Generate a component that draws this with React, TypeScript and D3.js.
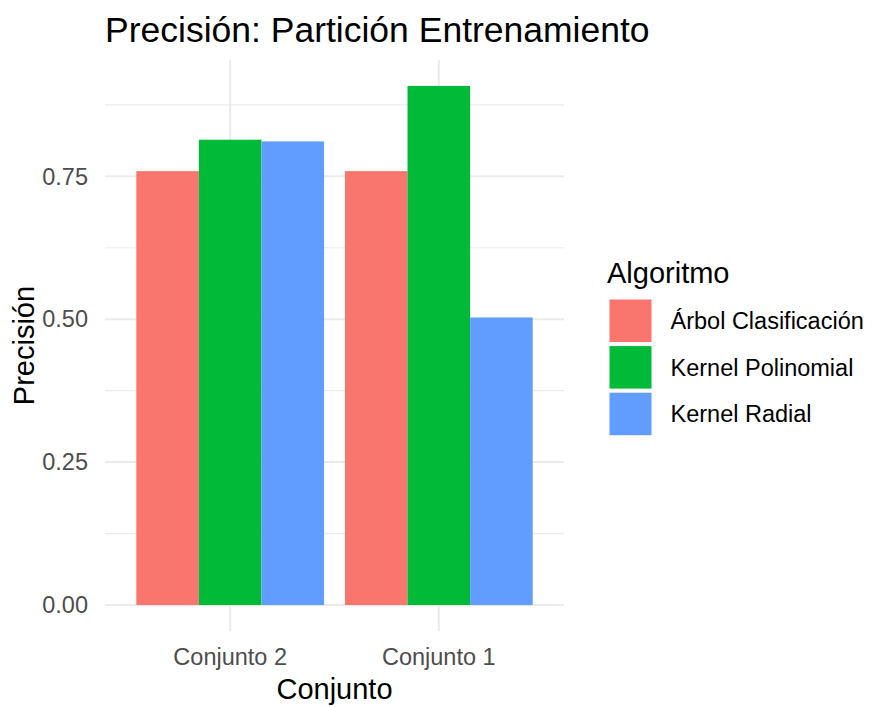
import * as d3 from "d3";
import React from "react";

const conjuntos = ["Conjunto 2", "Conjunto 1"];
const algoritmos = ["Árbol Clasificación", "Kernel Polinomial", "Kernel Radial"];
const arbol = [0.759, 0.759];
const polinomial = [0.814, 0.908];
const radial = [0.811, 0.503];
const colores = ["#F8766D", "#00BA38", "#619CFF"];
const majorTicks = [0, 0.25, 0.5, 0.75];
const minorTicks = [0.125, 0.375, 0.625, 0.875];

const W = 874;
const H = 707;
const panel = { left: 105, right: 564, top: 60, bottom: 631 };
const font = "'Liberation Sans', Arial, sans-serif";

const App: React.FC = () => {
  const series = [arbol, polinomial, radial];
  const rows = conjuntos.flatMap((c, i) =>
    algoritmos.map((a, j) => ({ conjunto: c, algoritmo: a, value: series[j][i] })),
  );

  const yMax = d3.max(rows, (d) => d.value)!;
  const y = d3
    .scaleLinear()
    .domain([-0.05 * yMax, yMax * 1.05])
    .range([panel.bottom, panel.top]);

  // ggplot-like discrete expansion: 0.6 of a step on each side, bars 0.9 wide
  const x = d3
    .scaleBand()
    .domain(conjuntos)
    .range([panel.left, panel.right])
    .paddingInner(0.1)
    .paddingOuter(0.15);

  const xInner = d3.scaleBand().domain(algoritmos).range([0, x.bandwidth()]);
  const color = d3.scaleOrdinal<string>().domain(algoritmos).range(colores);

  return (
    <svg
      width={W}
      height={H}
      style={{ position: "absolute", left: 0, top: 0, background: "#fff" }}
      fontFamily={font}
    >
      {/* grid */}
      {minorTicks.map((t) => (
        <line
          key={"mi" + t}
          x1={panel.left}
          x2={panel.right}
          y1={y(t)}
          y2={y(t)}
          stroke="#EBEBEB"
          strokeWidth={1.2}
        />
      ))}
      {majorTicks.map((t) => (
        <line
          key={"ma" + t}
          x1={panel.left}
          x2={panel.right}
          y1={y(t)}
          y2={y(t)}
          stroke="#EBEBEB"
          strokeWidth={2}
        />
      ))}
      {conjuntos.map((c) => (
        <line
          key={"v" + c}
          x1={x(c)! + x.bandwidth() / 2}
          x2={x(c)! + x.bandwidth() / 2}
          y1={panel.top}
          y2={panel.bottom}
          stroke="#EBEBEB"
          strokeWidth={2}
        />
      ))}

      {/* bars */}
      {rows.map((d) => (
        <rect
          key={d.conjunto + d.algoritmo}
          x={x(d.conjunto)! + xInner(d.algoritmo)!}
          width={xInner.bandwidth()}
          y={y(d.value)}
          height={y(0) - y(d.value)}
          fill={color(d.algoritmo)}
        />
      ))}

      {/* y axis */}
      {majorTicks.map((t) => (
        <text
          key={"yt" + t}
          x={88}
          y={y(t)}
          dy="0.35em"
          textAnchor="end"
          fontSize={23.5}
          fill="#4D4D4D"
        >
          {d3.format(".2f")(t)}
        </text>
      ))}
      <text
        transform={`translate(34, ${(panel.top + panel.bottom) / 2}) rotate(-90)`}
        textAnchor="middle"
        fontSize={29}
        fill="#000"
      >
        Precisión
      </text>

      {/* x axis */}
      {conjuntos.map((c) => (
        <text
          key={"xt" + c}
          x={x(c)! + x.bandwidth() / 2}
          y={665}
          textAnchor="middle"
          fontSize={23.5}
          fill="#4D4D4D"
        >
          {c}
        </text>
      ))}
      <text
        x={(panel.left + panel.right) / 2}
        y={699}
        textAnchor="middle"
        fontSize={29}
        fill="#000"
      >
        Conjunto
      </text>

      {/* title */}
      <text x={105} y={42} fontSize={35.5} fill="#000">
        Precisión: Partición Entrenamiento
      </text>

      {/* legend */}
      <text x={607} y={283} fontSize={29} fill="#000">
        Algoritmo
      </text>
      {algoritmos.map((a, i) => (
        <g key={"lg" + a} transform={`translate(609.5, ${299.5 + i * 46.6})`}>
          <rect width={42} height={42.5} fill={color(a)} />
          <text x={61} y={21.3} dy="0.35em" fontSize={23.5} fill="#000">
            {a}
          </text>
        </g>
      ))}
    </svg>
  );
};

export default App;
